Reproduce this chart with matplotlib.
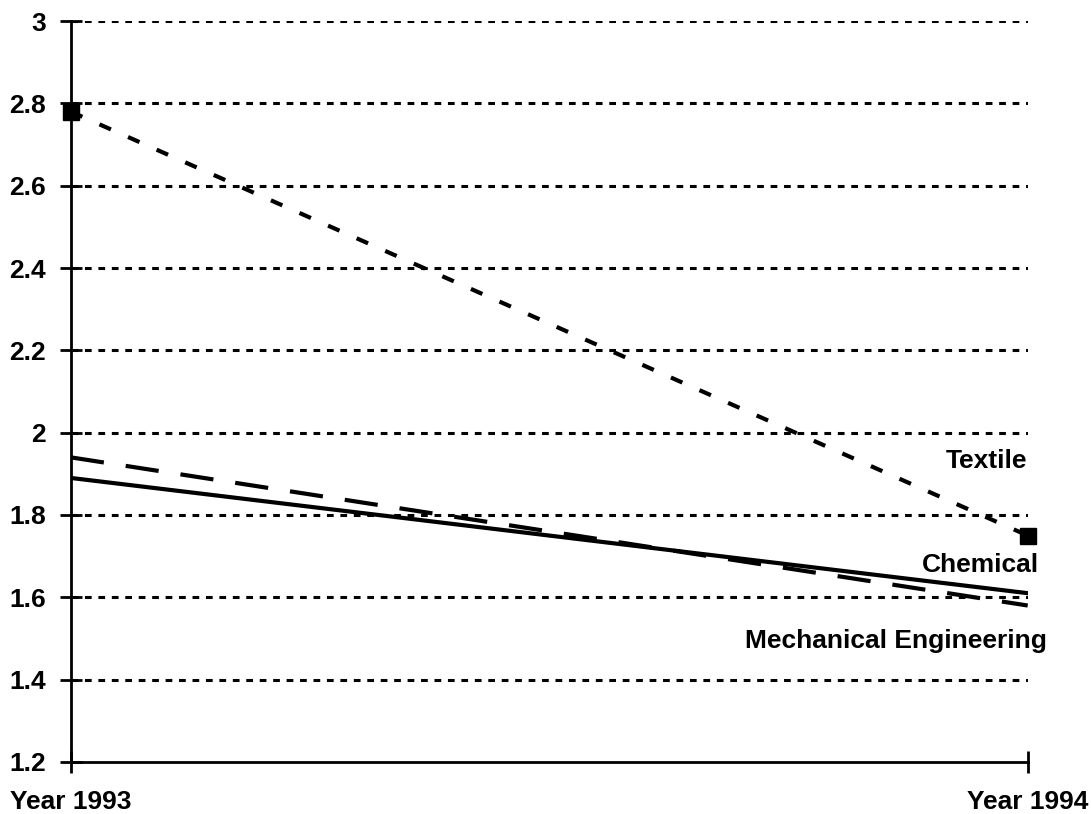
import numpy as np
import matplotlib
matplotlib.use("Agg")
import matplotlib.pyplot as plt

plt.rcParams['font.family'] = ['Liberation Sans', 'DejaVu Sans']
plt.rcParams['font.weight'] = 'bold'

# values per sector, two years
years = ["Year 1993", "Year 1994"]
textile = [2.78, 1.75]
chemical = [1.89, 1.61]
mech_eng = [1.94, 1.58]
yticks = [1.2, 1.4, 1.6, 1.8, 2.0, 2.2, 2.4, 2.6, 2.8, 3.0]
ytick_labels = ["1.2", "1.4", "1.6", "1.8", "2", "2.2", "2.4", "2.6", "2.8", "3"]

fig = plt.figure(figsize=(10.91, 8.14), dpi=100)
ax = fig.add_axes([0.065, 0.064, 0.877, 0.910])

x = np.arange(len(years))

# dotted horizontal grid
for y in yticks[1:]:
    ax.axhline(y, color='black', lw=2.2, ls=(0, (2.2, 2.2)), zorder=1)

ax.plot(x, textile, color='black', lw=3.0, ls=(0, (3.0, 4.5)),
        marker='s', ms=11, zorder=3, clip_on=False)
ax.plot(x, chemical, color='black', lw=3.0, ls='-', zorder=3)
ax.plot(x, mech_eng, color='black', lw=3.0, ls=(0, (8, 5.3)), zorder=3)

ax.text(1.0, 1.93, "Textile", ha='right', va='center', fontsize=19, fontweight='bold')
ax.text(1.012, 1.678, "Chemical", ha='right', va='center', fontsize=19, fontweight='bold')
ax.text(1.02, 1.494, "Mechanical Engineering", ha='right', va='center', fontsize=19, fontweight='bold')

ax.set_xlim(0, 1)
ax.set_ylim(1.2, 3.0)
ax.set_xticks(x)
ax.set_xticklabels(years)
ax.set_yticks(yticks)
ax.set_yticklabels(ytick_labels)

for s in ['top', 'right']:
    ax.spines[s].set_visible(False)
for s in ['left', 'bottom']:
    ax.spines[s].set_linewidth(2)

ax.tick_params(axis='both', direction='inout', length=16, width=2,
               labelsize=19, pad=10)
ax.tick_params(axis='x', pad=12)
for lab in ax.get_xticklabels() + ax.get_yticklabels():
    lab.set_fontweight('bold')

fig.savefig("out.png", dpi=100)
